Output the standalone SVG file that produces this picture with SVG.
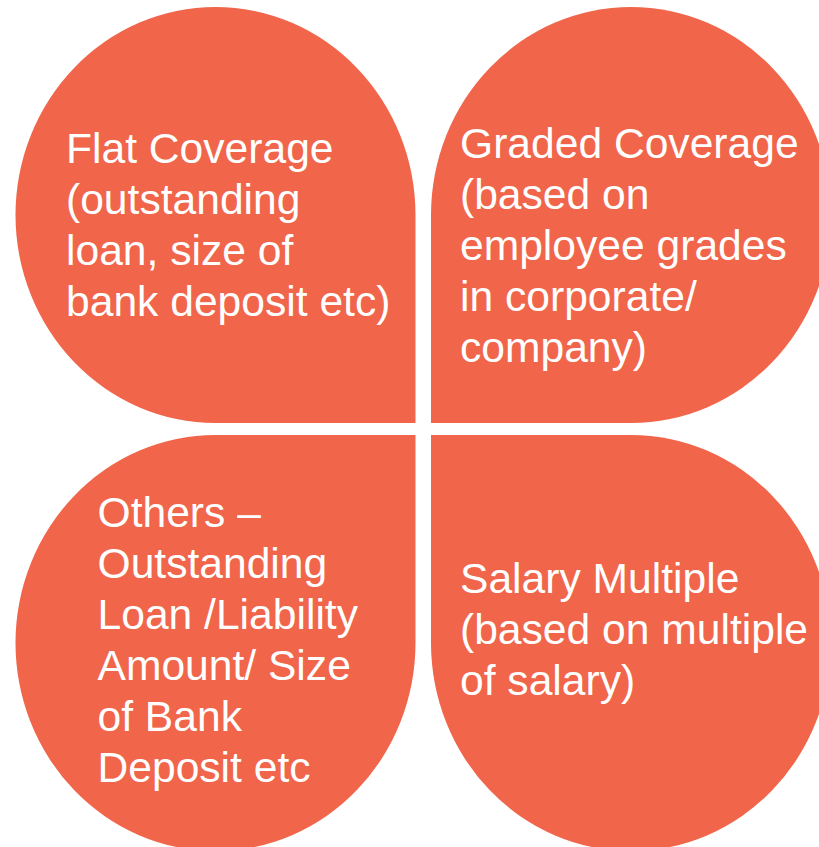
<svg xmlns="http://www.w3.org/2000/svg" width="819" height="847" viewBox="0 0 819 847">
<style>
.petal{fill:#F1654B;}
.lbl{font-family:"Liberation Sans",Arial,sans-serif;font-size:42.6px;fill:#FFFFFF;}
</style>
<rect width="819" height="847" fill="#FFFFFF"/>
<g id="node-flat">
<path class="petal" d="M15.5,215 A200,208 0 0 1 215.5,7 A200,208 0 0 1 415.5,215 L415.5,423 L215.5,423 A200,208 0 0 1 15.5,215 Z"/>
<text class="lbl" x="66" y="163">Flat Coverage</text>
<text class="lbl" x="66" y="214">(outstanding</text>
<text class="lbl" x="66" y="265">loan, size of</text>
<text class="lbl" x="66" y="316">bank deposit etc)</text>
</g>
<g id="node-graded">
<path class="petal" d="M431,423 L431,215 A200,208 0 0 1 631,7 A200,208 0 0 1 831,215 A200,208 0 0 1 631,423 Z"/>
<text class="lbl" x="460" y="158">Graded Coverage</text>
<text class="lbl" x="460" y="209">(based on</text>
<text class="lbl" x="460" y="260">employee grades</text>
<text class="lbl" x="460" y="311">in corporate/</text>
<text class="lbl" x="460" y="362">company)</text>
</g>
<g id="node-others">
<path class="petal" d="M415.5,435 L415.5,643 A200,208 0 0 1 215.5,851 A200,208 0 0 1 15.5,643 A200,208 0 0 1 215.5,435 Z"/>
<text class="lbl" x="97.5" y="527">Others –</text>
<text class="lbl" x="97.5" y="578">Outstanding</text>
<text class="lbl" x="97.5" y="629">Loan /Liability</text>
<text class="lbl" x="97.5" y="680">Amount/ Size</text>
<text class="lbl" x="97.5" y="731">of Bank</text>
<text class="lbl" x="97.5" y="782">Deposit etc</text>
</g>
<g id="node-salary">
<path class="petal" d="M431,435 L631,435 A200,208 0 0 1 831,643 A200,208 0 0 1 631,851 A200,208 0 0 1 431,643 Z"/>
<text class="lbl" x="460" y="593">Salary Multiple</text>
<text class="lbl" x="460" y="644">(based on multiple</text>
<text class="lbl" x="460" y="695">of salary)</text>
</g>
<g id="connectors"/>
</svg>
